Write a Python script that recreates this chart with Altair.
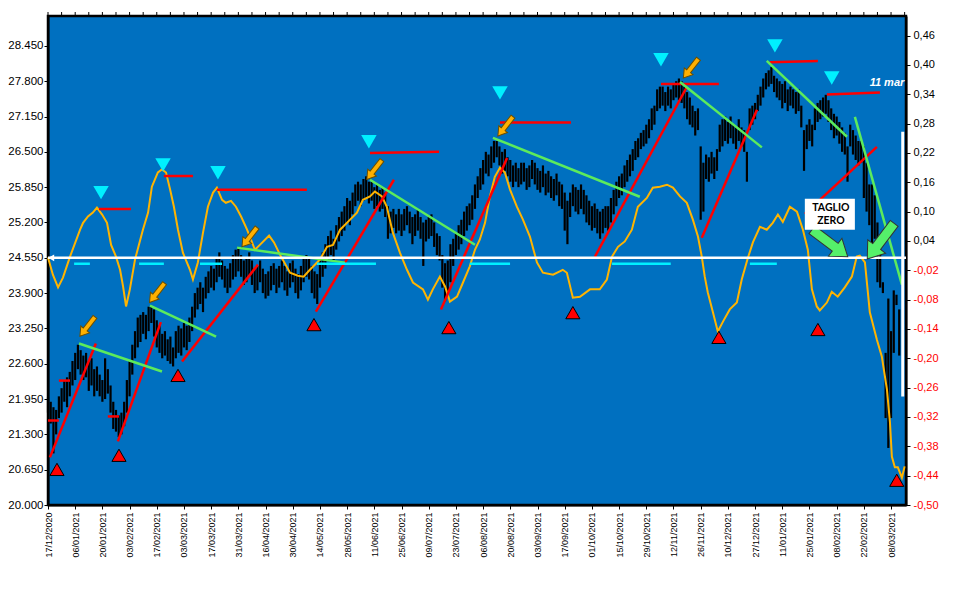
import altair as alt
import pandas as pd

# ---------------- data ----------------
dates = ["17/12/2020", "06/01/2021", "20/01/2021", "03/02/2021", "17/02/2021", "03/03/2021",
         "17/03/2021", "31/03/2021", "16/04/2021", "30/04/2021", "14/05/2021", "28/05/2021",
         "11/06/2021", "25/06/2021", "09/07/2021", "23/07/2021", "06/08/2021", "20/08/2021",
         "03/09/2021", "17/09/2021", "01/10/2021", "15/10/2021", "29/10/2021", "12/11/2021",
         "26/11/2021", "10/12/2021", "27/12/2021", "11/01/2021", "25/01/2021", "08/02/2021",
         "22/02/2021", "08/03/2021"]

price_ticks = [20000, 20650, 21300, 21950, 22600, 23250, 23900, 24550, 25200, 25850,
               26500, 27150, 27800, 28450]
osc_ticks = [-0.50, -0.44, -0.38, -0.32, -0.26, -0.20, -0.14, -0.08, -0.02, 0.04,
             0.10, 0.16, 0.22, 0.28, 0.34, 0.40, 0.46]

lows = [
    21700, 21500, 20950, 21300, 21600, 21700, 21900, 21800, 22000, 22200,
    22300, 22500, 22400, 22300, 22350, 22100, 22200, 22000, 22100, 22000,
    21900, 21950, 22050, 21700, 21400, 21350, 21250, 21300, 21450, 21700,
    22000, 22400, 22700, 22900, 23000, 23150, 23050, 23200, 23350, 23100,
    22900, 22800, 22700, 22750, 22650, 22600, 22550, 22700, 22800, 22750,
    22900, 22850, 23000, 23200, 23450, 23600, 23700, 23550, 23800, 23900,
    24000, 23950, 24100, 24200, 24150, 24000, 23900, 24000, 24150, 24200,
    24300, 24200, 24050, 24100, 24200, 24050, 23900, 23950, 24100, 23900,
    23800, 23850, 23950, 24050, 23900, 24000, 24100, 23950, 23850, 24000,
    24100, 23900, 23800, 23950, 24100, 24200, 24150, 23900, 23800, 23700,
    24000, 24200, 24350, 24500, 24600, 24500, 24700, 24850, 24950, 25050,
    25200, 25150, 25350, 25500, 25600, 25500, 25600, 25650, 25550, 25600,
    25450, 25500, 25400, 25450, 25300, 24900, 25000, 25100, 25000, 25050,
    24950, 25050, 25150, 25000, 24800, 24950, 25050, 24900, 24400, 24850,
    24900, 24950, 24750, 24600, 24500, 24000, 23750, 23900, 24100, 24400,
    24600, 24700, 24800, 24950, 25050, 25150, 25250, 25450, 25650, 25800,
    25900, 26100, 26050, 26200, 26300, 26400, 26250, 26100, 26150, 26050,
    25950, 25850, 25950, 25850, 25900, 25950, 25800, 25850, 26000, 25900,
    25800, 25750, 25850, 25700, 25750, 25650, 25600, 25700, 25500, 25450,
    25050, 24800, 25300, 25500, 25400, 25350, 25450, 25350, 25200, 25150,
    25050, 25100, 25000, 24900, 25000, 25100, 25050, 25200, 25350, 25500,
    25650, 25700, 25850, 25950, 26050, 26150, 26350, 26400, 26550, 26600,
    26650, 26750, 26900, 27000, 27250, 27300, 27350, 27250, 27350, 27300,
    27450, 27500, 27450, 27400, 27300, 27100, 27000, 26950, 26800, 26900,
    25250, 25400, 26000, 25950, 26100, 26000, 26150, 26500, 26600, 26700,
    26650, 26750, 26650, 26550, 26700, 26600, 26500, 25950, 26900, 27000,
    27100, 27250, 27350, 27500, 27650, 27700, 27750, 27600, 27500, 27450,
    27300, 27400, 27250, 27350, 27300, 27200, 27250, 26950, 26150, 26550,
    26700, 26600, 26900, 27050, 27100, 27150, 27200, 27050, 26900, 26750,
    26800, 26650, 26500, 26450, 25950, 26600, 26450, 26350, 26250, 26300,
    25650, 25400, 25150, 24800, 24900, 24100, 24000, 23900, 21600, 21050,
    21600, 22800, 23680, 22750]

highs = [
    21980, 21900, 21800, 21750, 22000, 22150, 22300, 22350, 22450, 22650,
    22800, 22950, 22850, 22750, 22800, 22650, 22700, 22500, 22550, 22400,
    22300, 22700, 22500, 22200, 21900, 21750, 21650, 21700, 21900, 22300,
    22650, 22950, 23200, 23450, 23500, 23550, 23500, 23650, 23650, 23600,
    23400, 23300, 23150, 23200, 23050, 23100, 22900, 23200, 23300, 23250,
    23350, 23300, 23450, 23650, 23900, 24000, 24100, 24000, 24200, 24300,
    24400, 24350, 24550, 24650, 24500, 24400, 24350, 24450, 24600, 24700,
    24750, 24600, 24500, 24550, 24650, 24500, 24350, 24400, 24500, 24350,
    24250, 24300, 24400, 24450, 24350, 24400, 24500, 24400, 24300, 24450,
    24500, 24350, 24250, 24400, 24550, 24600, 24550, 24400, 24300, 24250,
    24500, 24650, 24800, 24950, 25050, 24900, 25150, 25300, 25400, 25500,
    25650, 25600, 25750, 25900, 25950, 25900, 26000, 26050, 25950, 25950,
    25850, 25900, 25800, 25850, 25750, 25500, 25400, 25450, 25350, 25450,
    25350, 25450, 25500, 25400, 25300, 25350, 25450, 25300, 25200, 25250,
    25300, 25350, 25200, 25000, 24950, 24600, 24450, 24500, 24800, 24900,
    25000, 25150, 25250, 25400, 25500, 25550, 25700, 25900, 26050, 26200,
    26350, 26500, 26450, 26600, 26700, 26700, 26600, 26500, 26550, 26400,
    26350, 26250, 26300, 26200, 26300, 26300, 26200, 26250, 26350, 26300,
    26200, 26150, 26250, 26100, 26150, 26050, 26000, 26100, 25950, 25900,
    25750, 25600, 25750, 25900, 25850, 25800, 25900, 25800, 25700, 25600,
    25500, 25550, 25450, 25400, 25450, 25500, 25500, 25650, 25800, 25950,
    26050, 26100, 26250, 26350, 26450, 26550, 26700, 26750, 26850, 26900,
    27000, 27100, 27300, 27350, 27650, 27700, 27700, 27600, 27700, 27650,
    27750, 27800, 27850, 27800, 27700, 27600, 27500, 27350, 27250, 27300,
    26600, 26300, 26450, 26400, 26500, 26400, 26550, 27000, 27100, 27150,
    27050, 27150, 27000, 26950, 27100, 26950, 26900, 26500, 27300, 27350,
    27400, 27550, 27700, 27850, 27950, 28000, 28060, 27900, 27850, 27800,
    27750, 27800, 27650, 27700, 27650, 27600, 27650, 27350, 26900, 27000,
    27100, 27000, 27300, 27400, 27450, 27500, 27550, 27450, 27300, 27200,
    27150, 27050, 26950, 26850, 26600, 27000, 26900, 26800, 26700, 26700,
    26600, 26300, 25900, 25900, 25700, 25200, 24700, 24100, 22800, 23800,
    23200, 23950, 23870, 23600]

osc_d = [0, 1.8, 3.7, 5.5, 8.1, 11.8, 12.9, 14.7, 16.5, 18, 19.9, 21.7, 23.2, 25, 26.5, 27.6,
         28.7, 30.1, 32, 34.9, 36.8, 38.2, 40.4, 41.9, 43.4, 44.9, 46.3, 47.8, 49.6, 52.2, 53.3,
         55.1, 57, 58.8, 60.7, 62.1, 64, 65.4, 67.3, 69.1, 71, 73.2, 76.1, 77.9, 81.3, 83.1,
         85.3, 89, 91.9, 94, 96.3, 100, 102.6, 104.8, 107.4, 109.9, 113.6, 115.8, 118.4, 120.2,
         122.8, 124.6, 126.8, 129.4, 132, 134.2, 137.9, 139.7, 141.5, 144.1, 146, 147.8, 150.4,
         152.6, 155.1, 157, 158.8, 160.7, 162.5, 164.3, 166.2, 168, 169.9, 172.4, 174.6, 177.2,
         179.8, 182, 185.7, 189.3, 190.8, 193, 195.6, 199.3, 202.9, 205.5, 207.4, 209.6, 212.1,
         214.7, 216.9, 220.2, 222.4, 225, 227.6, 229.8, 232.4, 234.9, 237.1, 239, 240.4, 241.5,
         242.6, 244.5, 246.3, 248.2, 250.7, 253.3, 255.1, 257.4, 259.2, 261.8, 264.3, 266.5,
         268.4, 270.2, 272.8, 275.4, 277.6, 279.4, 280.9, 282.7, 283.8, 286.4, 288.2, 290.4,
         293, 295.6, 297.4, 298.5, 300.4, 302.2, 304.8, 306.6, 308.5, 309.6, 310.3, 311.4,
         312.5, 314, 315]
osc_v = [0.006, -0.029, -0.055, -0.035, 0.008, 0.063, 0.077, 0.090, 0.098, 0.108, 0.094, 0.077,
         0.032, 0.008, -0.019, -0.053, -0.094, -0.059, 0.002, 0.063, 0.098, 0.151, 0.180, 0.186,
         0.180, 0.145, 0.110, 0.063, 0.016, -0.019, -0.039, -0.004, 0.057, 0.110, 0.139, 0.149,
         0.124, 0.118, 0.122, 0.110, 0.090, 0.063, 0.022, 0.032, 0.051, 0.037, 0.012, -0.025,
         -0.031, -0.033, -0.019, 0.002, 0.028, 0.032, 0.063, 0.077, 0.098, 0.124, 0.131, 0.141,
         0.131, 0.110, 0.057, 0.016, -0.019, -0.045, -0.059, -0.080, -0.059, -0.033, -0.053,
         -0.084, -0.074, -0.045, -0.012, 0.022, 0.043, 0.077, 0.131, 0.171, 0.190, 0.180, 0.145,
         0.110, 0.084, 0.049, -0.004, -0.025, -0.029, -0.019, -0.025, -0.076, -0.074, -0.059,
         -0.059, -0.039, 0.008, 0.028, 0.039, 0.063, 0.110, 0.128, 0.149, 0.151, 0.155, 0.149,
         0.131, 0.118, 0.084, 0.049, 0.008, -0.033, -0.065, -0.106, -0.145, -0.125, -0.100,
         -0.086, -0.039, 0.006, 0.037, 0.069, 0.063, 0.077, 0.094, 0.079, 0.110, 0.100, 0.063,
         0.022, -0.059, -0.094, -0.102, -0.086, -0.064, -0.074, -0.055, -0.033, 0.008, 0.010,
         -0.004, -0.106, -0.162, -0.196, -0.264, -0.331, -0.401, -0.423, -0.423, -0.444, -0.421]

# markers / annotations (day index, price)
top_marks_d = [19.5, 42.3, 62.5, 118.0, 166.2, 225.4, 267.3, 288.2]
top_marks_p = [25750, 26260, 26115, 26685, 27585, 28195, 28450, 27860]
bottom_marks_d = [3.3, 26.1, 47.8, 97.8, 147.4, 193.0, 246.7, 283.1, 312.1]
bottom_marks_p = [20655, 20915, 22385, 23320, 23265, 23540, 23085, 23230, 20455]

res_d1 = [18.75, 42.6, 62.1, 118.4, 166.2, 225.4, 265.4, 286.4, 0.0, 4.0, 22.0]
res_d2 = [30.5, 53.3, 95.2, 143.8, 192.3, 246.7, 283.1, 305.9, 4.0, 8.1, 26.1]
res_p1 = [25450, 26055, 25800, 26480, 27040, 27750, 28150, 27555, 21555, 22290, 21630]
res_p2 = [25450, 26055, 25800, 26500, 27040, 27750, 28170, 27590, 21555, 22290, 21630]

sup_d1 = [0.7, 25.7, 49.3, 98.5, 144.5, 201.1, 240.4, 278.3]
sup_p1 = [20877, 21170, 22641, 23559, 23600, 24569, 24918, 25359]
sup_d2 = [17.6, 41.5, 77.2, 127.2, 168.8, 234.9, 260.7, 304.8]
sup_p2 = [22972, 23367, 24424, 25986, 26387, 27693, 27274, 26590]

gr_d1 = [11.4, 37.5, 69.5, 118.4, 163.6, 232.4, 264.3, 296.7]
gr_p1 = [22972, 23671, 24737, 25986, 26758, 27787, 28174, 27144]
gr_d2 = [41.9, 61.8, 109.2, 157.0, 217.6, 262.5, 293.8, 314.0]
gr_p2 = [22457, 23101, 24461, 24790, 25673, 26582, 26778, 24056]

cy_d1 = [9.6, 33.5, 55.9, 98.9, 155.1, 207.4, 258.1]
cy_d2 = [15.4, 42.6, 64.0, 120.6, 169.9, 229.0, 268.0]
cy_p = [24440, 24440, 24440, 24440, 24440, 24440, 24440]

oa_d = [14.5, 40.1, 74.1, 120.0, 168.2, 236.4]
oa_p = [23284, 23906, 24930, 26170, 26970, 28036]

ga_d = [287.5, 306.2]
ga_p = [24819, 24856]
ga_angle = [307, 37]

zero_level = 24550
last_bar_d = [314.3]
last_bar_p1 = [21998]
last_bar_p2 = [26868]

box_d1, box_d2, box_p1, box_p2 = [278.3], [296.7], [25064], [25635]
box_text = ["TAGLIO", "ZERO"]
box_text_d = [287.9, 287.9]
box_text_p = [25472, 25233]
note_text = ["11 mar"]
note_d = [308.5]
note_p = [27769]

top_tick_days = list(range(0, 316, 5))

# ---------------- scales / axes ----------------
n = min(len(lows), len(highs))
bars_df = pd.DataFrame({"d": list(range(n)), "p": lows[:n], "p2": highs[:n]})
osc_df = pd.DataFrame({"d": osc_d, "v": osc_v})

xs = alt.Scale(domain=[0, 315.5], nice=False, zero=False)
ps = alt.Scale(domain=[20000, 29000], nice=False, zero=False)
vs = alt.Scale(domain=[-0.5, 0.5], nice=False, zero=False)

label_expr = "[" + ",".join("'%s'" % s for s in dates) + "][round(datum.value/10)]"
x_axis = alt.Axis(values=list(range(0, 311, 10)), labelExpr=label_expr, labelAngle=270,
                  labelAlign="right", labelBaseline="middle", labelFont="Liberation Sans",
                  labelFontSize=9, labelColor="black", tickSize=4, tickColor="black",
                  domainColor="black", domainWidth=2, labelPadding=3, grid=False, title=None,
                  labelOverlap=False, labelFlush=False, labelBound=False)
price_axis = alt.Axis(orient="left", values=price_ticks,
                      labelExpr="replace(format(datum.value, ','), ',', '.')",
                      labelFont="Liberation Sans", labelFontSize=11.5, labelColor="black",
                      tickSize=4, tickColor="black", domainColor="black", domainWidth=2,
                      labelPadding=1, grid=False, title=None, labelOverlap=False,
                      labelFlush=False)
osc_axis = alt.Axis(orient="right", values=osc_ticks,
                    labelExpr="(datum.value < 0 ? '-' : '') + replace(format(abs(datum.value), '.2f'), '.', ',')",
                    labelColor={"expr": "datum.value < 0 ? '#FF0000' : 'black'"},
                    labelFont="Liberation Sans", labelFontSize=11, tickSize=4,
                    tickColor="black", domainColor="black", domainWidth=2, labelPadding=3,
                    grid=False, title=None, labelOverlap=False, labelFlush=False)

ex = alt.X("d:Q", scale=xs, axis=x_axis)
ey = alt.Y("p:Q", scale=ps, axis=None)

# ---------------- layers ----------------
bars = alt.Chart(bars_df).mark_rule(color="black", strokeWidth=2.2).encode(
    x=ex, y=alt.Y("p:Q", scale=ps, axis=price_axis), y2="p2:Q")

osc = alt.Chart(osc_df).mark_line(color="#FFB400", strokeWidth=2).encode(
    x=ex, y=alt.Y("v:Q", scale=vs, axis=osc_axis))

def seg_df(d1, d2, p1, p2):
    return pd.DataFrame({"d": d1, "d2": d2, "p": p1, "p2": p2})

red_res = alt.Chart(seg_df(res_d1, res_d2, res_p1, res_p2)).mark_rule(
    color="#FF0000", strokeWidth=2.5).encode(x=ex, x2="d2:Q", y=ey, y2="p2:Q")
red_sup = alt.Chart(seg_df(sup_d1, sup_d2, sup_p1, sup_p2)).mark_rule(
    color="#FF0000", strokeWidth=2.5).encode(x=ex, x2="d2:Q", y=ey, y2="p2:Q")
green = alt.Chart(seg_df(gr_d1, gr_d2, gr_p1, gr_p2)).mark_rule(
    color="#5CEB5C", strokeWidth=2.5).encode(x=ex, x2="d2:Q", y=ey, y2="p2:Q")
cyan = alt.Chart(seg_df(cy_d1, cy_d2, cy_p, cy_p)).mark_rule(
    color="#00F0FF", strokeWidth=2.5).encode(x=ex, x2="d2:Q", y=ey)

white_line = alt.Chart(pd.DataFrame({"d": [0], "d2": [315.5], "p": [zero_level]})).mark_rule(
    color="white", strokeWidth=2.5).encode(x=ex, x2="d2:Q", y=ey)
white_tip = alt.Chart(pd.DataFrame({"d": [1.2], "p": [zero_level]})).mark_point(
    shape="triangle-left", filled=True, color="white", size=45, opacity=1).encode(x=ex, y=ey)
last_bar = alt.Chart(pd.DataFrame({"d": last_bar_d, "p": last_bar_p1, "p2": last_bar_p2})).mark_rule(
    color="white", strokeWidth=3).encode(x=ex, y=ey, y2="p2:Q")

top_tri = alt.Chart(pd.DataFrame({"d": top_marks_d, "p": top_marks_p})).mark_point(
    shape="triangle-down", filled=True, color="#00F0FF", size=240, opacity=1).encode(x=ex, y=ey)
bot_tri = alt.Chart(pd.DataFrame({"d": bottom_marks_d, "p": bottom_marks_p})).mark_point(
    shape="triangle-up", filled=True, fill="#FF0000", stroke="black", strokeWidth=1,
    size=200, opacity=1).encode(x=ex, y=ey)

arrow_small = "M-0.2,-1L0.2,-1L0.2,0.3L0.45,0.3L0,1L-0.45,0.3L-0.2,0.3Z"
arrow_big = "M-0.22,-1L0.22,-1L0.22,0.3L0.5,0.3L0,1L-0.5,0.3L-0.22,0.3Z"
or_arrows = alt.Chart(pd.DataFrame({"d": oa_d, "p": oa_p})).mark_point(
    shape=arrow_small, filled=True, fill="#FFB000", stroke="#6B4E00", strokeWidth=1,
    size=600, angle=38, opacity=1).encode(x=ex, y=ey)
gr_arrows = alt.Chart(pd.DataFrame({"d": ga_d, "p": ga_p, "a": ga_angle})).mark_point(
    shape=arrow_big, filled=True, fill="#55F06A", stroke="#333333", strokeWidth=1,
    size=2000, opacity=1).encode(x=ex, y=ey, angle=alt.Angle("a:Q", scale=None))

box = alt.Chart(pd.DataFrame({"d": box_d1, "d2": box_d2, "p": box_p1, "p2": box_p2})).mark_rect(
    fill="white").encode(x=ex, x2="d2:Q", y=ey, y2="p2:Q")
box_txt = alt.Chart(pd.DataFrame({"d": box_text_d, "p": box_text_p, "t": box_text})).mark_text(
    font="Lato", fontWeight="bold", fontSize=10.5, color="black").encode(x=ex, y=ey, text="t:N")
note = alt.Chart(pd.DataFrame({"d": note_d, "p": note_p, "t": note_text})).mark_text(
    font="Liberation Sans", fontWeight="bold", fontStyle="italic", fontSize=11,
    color="white").encode(x=ex, y=ey, text="t:N")

top_ticks = alt.Chart(pd.DataFrame({"d": top_tick_days})).mark_rule(
    color="black", strokeWidth=1).encode(x=ex, y=alt.value(0), y2=alt.value(-4))

annotations = alt.layer(red_res, red_sup, green, cyan, white_line, white_tip, last_bar,
                        top_tri, bot_tri, or_arrows, gr_arrows, box, box_txt, note, top_ticks)

chart = alt.layer(bars, osc, annotations).resolve_scale(y="independent").properties(
    width=858, height=489,
    padding={"left": 40, "top": 8, "right": 50, "bottom": 70},
    autosize=alt.AutoSizeParams(type="none"),
    background="white",
).configure_view(fill="#0070C0", stroke="black", strokeWidth=2.5)

chart.save("out.html", embed_options={"renderer": "svg", "actions": False})
